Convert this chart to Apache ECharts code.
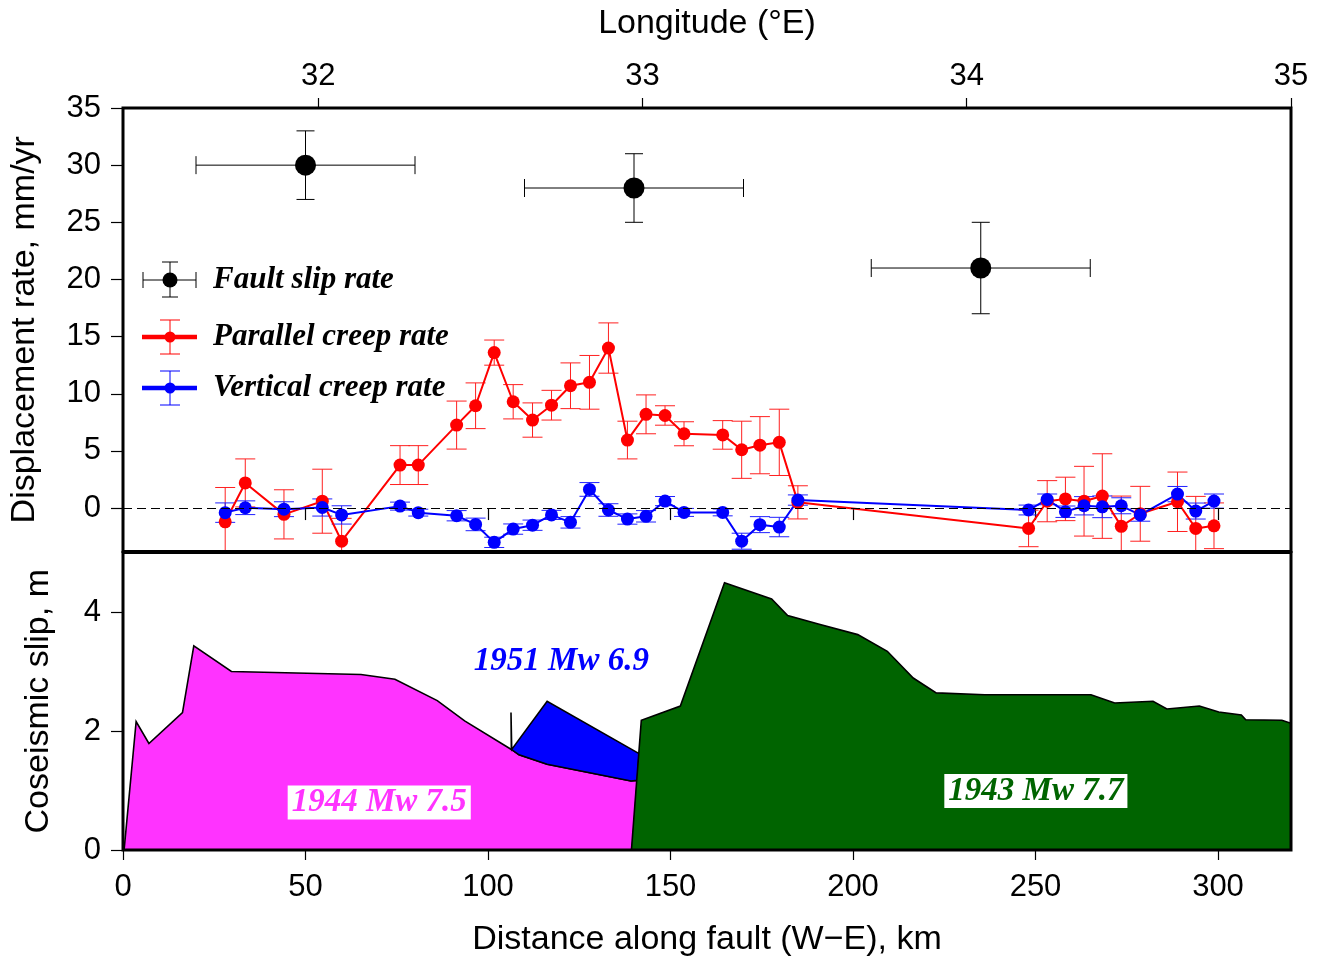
<!DOCTYPE html>
<html><head><meta charset="utf-8">
<script src="https://cdn.jsdelivr.net/npm/echarts@6/dist/echarts.min.js"></script>
<style>html,body{margin:0;padding:0;background:#fff}#c{width:1327px;height:962px}</style>
</head><body><div id="c"></div>
<script>
// ---------- tick labels ----------
const kmTicks = [0, 50, 100, 150, 200, 250, 300];
const lonTicks = [32, 33, 34, 35];
const rateTicks = [0, 5, 10, 15, 20, 25, 30, 35];
const slipTicks = [0, 2, 4];
const LON_MIN = 31.398, LON_MAX = 35;
const KM_MAX = 320, RATE_MIN = -3.8, RATE_MAX = 35, SLIP_MAX = 5;

// ---------- fault slip rate (black) ----------
const faultKm = [50, 140, 235];
const faultRate = [30, 28, 21];
const faultKmErr = [30, 30, 30];
const faultRateErr = [3, 3, 4];

// ---------- creep stations ----------
const stationKm = [28.0, 33.5, 44.1, 54.6, 59.9, 75.9, 80.9, 91.4, 96.6, 101.7, 106.9, 112.2, 117.4, 122.6, 127.8, 133.0, 138.2, 143.3, 148.5, 153.7, 164.3, 169.5, 174.5, 179.8, 184.9, 248.1, 253.2, 258.2, 263.3, 268.3, 273.5, 278.7, 288.9, 293.9, 298.9];
const parRate = [-1.2, 2.2, -0.55, 0.6, -2.9, 3.76, 3.76, 7.26, 8.95, 13.6, 9.3, 7.7, 9.0, 10.7, 11.0, 14.0, 5.95, 8.2, 8.1, 6.5, 6.4, 5.1, 5.5, 5.75, 0.5, -1.78, 0.6, 0.8, 0.6, 1.05, -1.6, -0.5, 0.55, -1.78, -1.55];
const parErr = [3.0, 2.1, 2.15, 2.8, 2.0, 1.7, 1.7, 2.1, 2.0, 1.1, 1.5, 1.5, 1.3, 2.0, 2.35, 2.2, 1.65, 1.7, 0.85, 1.05, 1.25, 2.5, 2.5, 2.9, 1.45, 1.6, 1.8, 1.9, 3.05, 3.7, 2.65, 2.4, 2.6, 2.8, 2.0];
const vertRate = [-0.4, 0.03, -0.1, 0.05, -0.6, 0.17, -0.4, -0.67, -1.43, -3.0, -1.84, -1.5, -0.6, -1.25, 1.63, -0.17, -0.96, -0.72, 0.61, -0.38, -0.38, -2.9, -1.45, -1.66, 0.7, -0.17, 0.76, -0.32, 0.2, 0.11, 0.2, -0.6, 1.22, -0.26, 0.61];
const vertErr = [0.85, 0.6, 0.65, 0.75, 0.8, 0.35, 0.3, 0.45, 0.55, 0.45, 0.45, 0.45, 0.4, 0.5, 0.6, 0.55, 0.45, 0.5, 0.4, 0.35, 0.3, 0.7, 0.7, 0.85, 0.45, 0.43, 0.47, 0.5, 0.8, 0.95, 0.7, 0.55, 0.67, 0.7, 0.62];

// ---------- coseismic slip profiles [km, m] ----------
const rupture1944 = [[0.3,0],[3.6,2.16],[7.1,1.79],[16.3,2.31],[19.4,3.43],[29.7,3.0],[65.2,2.95],[74.5,2.87],[86.1,2.51],[93.6,2.17],[106.4,1.69],[108.5,1.60],[116.2,1.44],[139.2,1.16],[140.9,1.17],[139.5,0]];
const rupture1951 = [[106.3,2.31],[106.5,1.69],[116.2,2.50],[141.4,1.62],[140.9,1.17],[139.2,1.16],[116.2,1.44],[108.5,1.60],[106.4,1.69]];
const rupture1943 = [[139.3,0],[142.0,2.18],[152.7,2.42],[164.8,4.49],[177.7,4.22],[182.1,3.94],[191.0,3.79],[201.3,3.62],[209.4,3.34],[216.5,2.89],[222.8,2.64],[236.1,2.61],[265.2,2.61],[271.7,2.47],[282.2,2.50],[286.0,2.37],[294.9,2.42],[300.2,2.32],[306.4,2.27],[307.6,2.19],[317.5,2.18],[320,2.13],[320,0]];
const rupLabels = ['1944 Mw 7.5', '1951 Mw 6.9', '1943 Mw 7.7'];
const rupLabelKm = [70.2, 120.1, 250.1];
const rupLabelM = [0.80, 3.17, 0.99];

// ---------- styles ----------
const SANS = '"Liberation Sans", Arial, Helvetica, sans-serif';
const SERIF = '"Liberation Serif", "Times New Roman", serif';
const FS = 31, FS_NAME = 34;
const rupFill = ['#ff33ff', '#0000ff', '#006400'];
const rupLabelBg = ['#ffffff', null, '#ffffff'];
const G0 = {left: 123, right: 36, top: 108, height: 443.5};
const G1 = {left: 123, right: 36, top: 552.5, height: 297.5};

function ln(x1, y1, x2, y2, color, lw) {
  return {type: 'line', shape: {x1, y1, x2, y2}, style: {stroke: color, lineWidth: lw}};
}
function errorBars(color, capPx, lw) {
  return function (params, api) {
    const x = api.value(0), y = api.value(1), ex = api.value(2), ey = api.value(3);
    const ch = [];
    if (ey > 0) {
      const t = api.coord([x, y + ey]), b = api.coord([x, y - ey]);
      ch.push(ln(t[0], t[1], b[0], b[1], color, lw));
      ch.push(ln(t[0] - capPx / 2, t[1], t[0] + capPx / 2, t[1], color, lw));
      ch.push(ln(b[0] - capPx / 2, b[1], b[0] + capPx / 2, b[1], color, lw));
    }
    if (ex > 0) {
      const l = api.coord([x - ex, y]), r = api.coord([x + ex, y]);
      ch.push(ln(l[0], l[1], r[0], r[1], color, lw));
      ch.push(ln(l[0], l[1] - capPx / 2, l[0], l[1] + capPx / 2, color, lw));
      ch.push(ln(r[0], r[1] - capPx / 2, r[0], r[1] + capPx / 2, color, lw));
    }
    return {type: 'group', children: ch};
  };
}
function polygonSeries(points, fill) {
  return {
    type: 'custom', xAxisIndex: 2, yAxisIndex: 1, clip: true, silent: true,
    data: [[0, 0]],
    renderItem: function (params, api) {
      return {type: 'polygon', shape: {points: points.map(p => api.coord(p))},
        style: {fill: fill, stroke: '#000', lineWidth: 1.6, lineJoin: 'miter'}};
    }
  };
}

const faultData = faultKm.map((k, i) => [k, faultRate[i], faultKmErr[i], faultRateErr[i]]);
const parData = stationKm.map((k, i) => [k, parRate[i], 0, parErr[i]]);
const vertData = stationKm.map((k, i) => [k, vertRate[i], 0, vertErr[i]]);

const axLabel = {color: '#000', fontFamily: SANS, fontSize: FS};
const nameStyle = {color: '#000', fontFamily: SANS, fontSize: FS_NAME};

// ---------- legend (decoration) ----------
const legendItems = [
  {y: 280, color: '#000', text: 'Fault slip rate', kind: 'fault'},
  {y: 337, color: '#ff0000', text: 'Parallel creep rate', kind: 'creep'},
  {y: 388, color: '#0000ff', text: 'Vertical creep rate', kind: 'creep'}
];
const legendGraphics = [];
legendItems.forEach(it => {
  const cx = 170;
  if (it.kind === 'fault') {
    legendGraphics.push(ln(143, it.y, 196, it.y, '#000', 1));
    legendGraphics.push(ln(143, it.y - 8, 143, it.y + 8, '#000', 1));
    legendGraphics.push(ln(196, it.y - 8, 196, it.y + 8, '#000', 1));
    legendGraphics.push(ln(cx, it.y - 18, cx, it.y + 17, '#000', 1));
    legendGraphics.push(ln(cx - 8, it.y - 18, cx + 8, it.y - 18, '#000', 1));
    legendGraphics.push(ln(cx - 8, it.y + 17, cx + 8, it.y + 17, '#000', 1));
    legendGraphics.push({type: 'circle', shape: {cx: cx, cy: it.y, r: 7.5}, style: {fill: '#000'}});
  } else {
    legendGraphics.push(ln(cx, it.y - 17, cx, it.y + 17, it.color, 1));
    legendGraphics.push(ln(cx - 10, it.y - 17, cx + 10, it.y - 17, it.color, 1));
    legendGraphics.push(ln(cx - 10, it.y + 17, cx + 10, it.y + 17, it.color, 1));
    legendGraphics.push(ln(142, it.y, 197, it.y, it.color, 4.5));
    legendGraphics.push({type: 'circle', shape: {cx: cx, cy: it.y, r: 5.5}, style: {fill: it.color}});
  }
  legendGraphics.push({type: 'text', x: 213, y: it.y, style: {text: it.text, fill: '#000',
    font: 'bold italic 31px ' + SERIF, verticalAlign: 'middle', align: 'left'}});
});

const option = {
  animation: false,
  backgroundColor: '#fff',
  grid: [
    Object.assign({show: true, borderColor: '#000', borderWidth: 3, backgroundColor: 'transparent', z: 10}, G0),
    Object.assign({show: true, borderColor: '#000', borderWidth: 3, backgroundColor: 'transparent', z: 10}, G1)
  ],
  xAxis: [
    {gridIndex: 0, type: 'value', min: 0, max: KM_MAX, position: 'bottom',
      axisLine: {show: false}, splitLine: {show: false},
      axisTick: {show: true, inside: false, length: 12, lineStyle: {color: '#000', width: 1.2}, customValues: kmTicks},
      axisLabel: {show: false, customValues: kmTicks}},
    {gridIndex: 0, type: 'value', min: LON_MIN, max: LON_MAX, position: 'top',
      axisLine: {show: false}, splitLine: {show: false},
      axisTick: {show: true, inside: false, length: 10, lineStyle: {color: '#000', width: 1.2}, customValues: lonTicks},
      axisLabel: Object.assign({margin: 16, customValues: lonTicks}, axLabel),
      name: 'Longitude (°E)', nameLocation: 'middle', nameGap: 67, nameTextStyle: nameStyle},
    {gridIndex: 1, type: 'value', min: 0, max: KM_MAX, position: 'bottom',
      axisLine: {show: false}, splitLine: {show: false},
      axisTick: {show: true, inside: false, length: 10, lineStyle: {color: '#000', width: 1.2}, customValues: kmTicks},
      axisLabel: Object.assign({margin: 22, customValues: kmTicks}, axLabel),
      name: 'Distance along fault (W\u2212E), km', nameLocation: 'middle', nameGap: 73, nameTextStyle: nameStyle}
  ],
  yAxis: [
    {gridIndex: 0, type: 'value', min: RATE_MIN, max: RATE_MAX,
      axisLine: {show: false}, splitLine: {show: false},
      axisTick: {show: true, inside: false, length: 12, lineStyle: {color: '#000', width: 1.2}, customValues: rateTicks},
      axisLabel: Object.assign({margin: 22, customValues: rateTicks}, axLabel),
      name: 'Displacement rate, mm/yr', nameLocation: 'middle', nameGap: 81, nameTextStyle: nameStyle},
    {gridIndex: 1, type: 'value', min: 0, max: SLIP_MAX,
      axisLine: {show: false}, splitLine: {show: false},
      axisTick: {show: true, inside: false, length: 12, lineStyle: {color: '#000', width: 1.2}, customValues: slipTicks},
      axisLabel: Object.assign({margin: 22, customValues: slipTicks}, axLabel),
      name: 'Coseismic slip, m', nameLocation: 'middle', nameGap: 67, nameTextStyle: nameStyle}
  ],
  graphic: legendGraphics,
  series: [
    // red error bars + zero dashed line
    {type: 'custom', xAxisIndex: 0, yAxisIndex: 0, clip: true, silent: true, data: parData,
      renderItem: errorBars('#ff2020', 20, 1),
      markLine: {silent: true, symbol: ['none', 'none'], label: {show: false},
        lineStyle: {color: '#000', type: [9, 5], width: 1.2}, data: [{yAxis: 0}]}},
    {type: 'line', xAxisIndex: 0, yAxisIndex: 0, data: stationKm.map((k, i) => [k, parRate[i]]),
      symbol: 'circle', symbolSize: 13, itemStyle: {color: '#ff0000', opacity: 1},
      lineStyle: {color: '#ff0000', width: 2}, silent: true},
    {type: 'custom', xAxisIndex: 0, yAxisIndex: 0, clip: true, silent: true, data: vertData,
      renderItem: errorBars('#2020ff', 20, 1)},
    {type: 'line', xAxisIndex: 0, yAxisIndex: 0, data: stationKm.map((k, i) => [k, vertRate[i]]),
      symbol: 'circle', symbolSize: 13, itemStyle: {color: '#0000ff', opacity: 1},
      lineStyle: {color: '#0000ff', width: 2}, silent: true},
    {type: 'custom', xAxisIndex: 0, yAxisIndex: 0, clip: true, silent: true, data: faultData,
      renderItem: errorBars('#000', 18, 1)},
    {type: 'scatter', xAxisIndex: 0, yAxisIndex: 0, data: faultKm.map((k, i) => [k, faultRate[i]]),
      symbol: 'circle', symbolSize: 21, itemStyle: {color: '#000', opacity: 1}, silent: true},
    // coseismic slip
    polygonSeries(rupture1944, rupFill[0]),
    polygonSeries(rupture1951, rupFill[1]),
    polygonSeries(rupture1943, rupFill[2]),
    {type: 'custom', xAxisIndex: 2, yAxisIndex: 1, silent: true, z: 5,
      data: rupLabels.map((t, i) => [rupLabelKm[i], rupLabelM[i], i]),
      renderItem: function (params, api) {
        const i = params.dataIndex;
        const p = api.coord([api.value(0), api.value(1)]);
        const st = {text: rupLabels[i], fill: rupFill[i], font: 'bold italic 33px ' + SERIF,
          align: 'center', verticalAlign: 'middle'};
        if (rupLabelBg[i]) { st.backgroundColor = rupLabelBg[i]; st.padding = [1, 4, 0, 4]; }
        return {type: 'text', x: p[0], y: p[1], style: st};
      }}
  ]
};
const chart = echarts.init(document.getElementById('c'), null, {renderer: 'canvas'});
chart.setOption(option);
</script></body></html>
